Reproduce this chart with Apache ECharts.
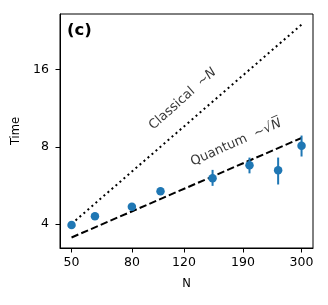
<!DOCTYPE html>
<html><head><meta charset="utf-8">
<script src="https://cdn.jsdelivr.net/npm/echarts@6/dist/echarts.min.js"></script>
<style>html,body{margin:0;padding:0;background:#fff}#c{width:328px;height:305px}</style>
</head><body><div id="c"></div>
<script>
// ---- data ----
const nValues = [50, 60, 80, 100, 150, 200, 250, 300];
const timeMean = [3.96, 4.28, 4.67, 5.36, 6.03, 6.78, 6.48, 8.08];
const timeLow  = [3.90, 4.22, 4.60, 5.26, 5.63, 6.30, 5.70, 7.33];
const timeHigh = [4.02, 4.34, 4.74, 5.46, 6.50, 7.26, 7.26, 8.85];
const lineN = [50, 300];
const classicalTime = [4.0, 24.0];
const quantumTime = [3.54, 8.66];
const xTicks = [50, 80, 120, 190, 300];
const yTicks = [4, 8, 16];
const xRange = [45.7, 328];
const yRange = [3.22, 26.4];
// annotation anchors (data space)
const classicalLabelAt = [119, 12.3];
const quantumLabelAt = [180, 8.3];

const lx = v => Math.log10(v);
const ly = v => Math.log2(v);
const FONT = 'DejaVu Sans';
const BLUE = '#1f77b4';

const chart = echarts.init(document.getElementById('c'), null, {renderer: 'canvas'});
const option = {
  animation: false,
  grid: {left: 60, top: 14, width: 253, height: 234, show: true, borderColor: '#000', borderWidth: 1, backgroundColor: 'transparent'},
  xAxis: {
    type: 'value', min: lx(xRange[0]), max: lx(xRange[1]),
    name: 'N', nameLocation: 'middle', nameGap: 30,
    nameTextStyle: {fontFamily: FONT, fontSize: 11.5, color: '#000'},
    axisLine: {show: true, lineStyle: {color: '#000', width: 1}},
    axisTick: {show: true, length: 4.5, customValues: xTicks.map(lx), lineStyle: {color: '#000', width: 1}},
    axisLabel: {customValues: xTicks.map(lx), margin: 8, fontFamily: FONT, fontSize: 12.5, color: '#000',
      formatter: v => String(Math.round(Math.pow(10, v)))},
    splitLine: {show: false}
  },
  yAxis: {
    type: 'value', min: ly(yRange[0]), max: ly(yRange[1]),
    name: 'Time', nameLocation: 'middle', nameGap: 33, nameRotate: 90,
    nameTextStyle: {fontFamily: FONT, fontSize: 11.5, color: '#000'},
    axisLine: {show: true, lineStyle: {color: '#000', width: 1}},
    axisTick: {show: true, length: 4.5, customValues: yTicks.map(ly), lineStyle: {color: '#000', width: 1}},
    axisLabel: {customValues: yTicks.map(ly), margin: 11, fontFamily: FONT, fontSize: 12.5, color: '#000',
      formatter: v => String(Math.round(Math.pow(2, v)))},
    splitLine: {show: false}
  },
  series: [
    {
      type: 'line', name: 'classical', symbol: 'none', silent: true,
      data: lineN.map((n, i) => [lx(n), ly(classicalTime[i])]),
      lineStyle: {color: '#000', width: 2, type: [2, 3.3], cap: 'butt'}, z: 2
    },
    {
      type: 'line', name: 'quantum', symbol: 'none', silent: true,
      data: lineN.map((n, i) => [lx(n), ly(quantumTime[i])]),
      lineStyle: {color: '#000', width: 2, type: [7.4, 3.2], cap: 'butt'}, z: 2
    },
    {
      type: 'custom', name: 'err', z: 3,
      data: nValues.map((n, i) => [lx(n), ly(timeLow[i]), ly(timeHigh[i])]),
      renderItem: (params, api) => {
        const p1 = api.coord([api.value(0), api.value(1)]);
        const p2 = api.coord([api.value(0), api.value(2)]);
        return {type: 'line', shape: {x1: p1[0], y1: p1[1], x2: p2[0], y2: p2[1]},
          style: {stroke: BLUE, lineWidth: 2}};
      }
    },
    {
      type: 'scatter', name: 'data', z: 4,
      data: nValues.map((n, i) => [lx(n), ly(timeMean[i])]),
      symbol: 'circle', symbolSize: 8.5, itemStyle: {color: BLUE, opacity: 1}
    },
    {
      type: 'scatter', name: 'labels', z: 5, silent: true,
      data: [
        {value: [lx(classicalLabelAt[0]), ly(classicalLabelAt[1])],
         label: {rotate: 42, formatter: '{t|Classical  ~}{i|N}'}},
        {value: [lx(quantumLabelAt[0]), ly(quantumLabelAt[1])],
         label: {rotate: 24, formatter: '{t|Quantum  ~}{t|√}{i|N\u0305}'}}
      ],
      symbolSize: 1, itemStyle: {color: 'rgba(0,0,0,0)'},
      label: {show: true, position: 'inside', align: 'center', verticalAlign: 'middle', textBorderWidth: 0,
        rich: {
          t: {fontFamily: FONT, fontSize: 13, color: '#000', textBorderWidth: 0},
          i: {fontFamily: FONT, fontSize: 13, fontStyle: 'italic', color: '#000', textBorderWidth: 0}
        }}
    }
  ],
  graphic: [
    {type: 'text', left: 67, top: 22, style: {text: '(c)', fontFamily: FONT, fontSize: 16.5, fontWeight: 'bold', fill: '#000'}}
  ]
};
chart.setOption(option);
</script>
</body></html>
